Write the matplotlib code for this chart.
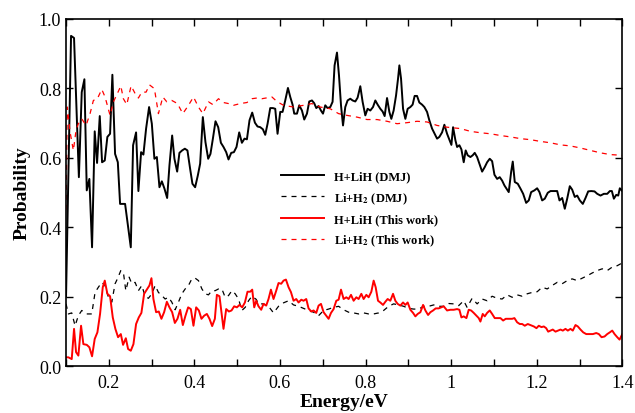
import numpy as np
import matplotlib
matplotlib.use("Agg")
import matplotlib.pyplot as plt
from matplotlib.ticker import MultipleLocator

# H+LiH (DMJ), black solid
e_hlih_dmj = [0.100, 0.1117, 0.1187, 0.130, 0.1367, 0.1429, 0.1484, 0.1545, 0.1608, 0.167,
              0.1725, 0.1788, 0.1842, 0.1905, 0.1966, 0.2029, 0.2083, 0.2146, 0.221, 0.2263,
              0.238, 0.2513, 0.2567, 0.2637, 0.2691, 0.2754, 0.2808, 0.2871, 0.2941, 0.3005,
              0.3065, 0.3122, 0.3183, 0.3239, 0.330, 0.3363, 0.3417, 0.348, 0.3533, 0.3597,
              0.365, 0.3713, 0.3777, 0.3837, 0.390, 0.3954, 0.4017, 0.408, 0.4134, 0.4197,
              0.4258, 0.4322, 0.4375, 0.4432, 0.4493, 0.4556, 0.4619, 0.468, 0.4743, 0.4797,
              0.486, 0.4923, 0.4984, 0.5047, 0.511, 0.5171, 0.5227, 0.5288, 0.5351, 0.5414,
              0.5475, 0.5538, 0.560, 0.5655, 0.571, 0.5772, 0.5835, 0.5889, 0.5943, 0.6006,
              0.606, 0.6123, 0.6186, 0.624, 0.6294, 0.6333, 0.6397, 0.645, 0.6513, 0.6567,
              0.663, 0.6684, 0.6747, 0.680, 0.6848, 0.6902, 0.6957, 0.7005, 0.7058, 0.7112,
              0.7175, 0.7229, 0.7276, 0.7332, 0.7379, 0.7426, 0.7473, 0.7526, 0.758, 0.7643,
              0.7697, 0.776, 0.7814, 0.7877, 0.7931, 0.7994, 0.8048, 0.8111, 0.8174, 0.8228,
              0.8282, 0.8345, 0.8399, 0.8446, 0.8502, 0.8556, 0.8602, 0.8656, 0.8712, 0.8759,
              0.879, 0.8829, 0.8876, 0.893, 0.8984, 0.9047, 0.910, 0.9147, 0.9203, 0.9257,
              0.932, 0.9374, 0.9437, 0.949, 0.9554, 0.9615, 0.9671, 0.9725, 0.9788, 0.9842,
              0.9905, 0.9966, 1.0006, 1.0045, 1.010, 1.0139, 1.0193, 1.024, 1.0294, 1.034,
              1.0387, 1.045, 1.0504, 1.0551, 1.0607, 1.066, 1.0724, 1.0785, 1.0841, 1.0902,
              1.0958, 1.1012, 1.1075, 1.1136, 1.1192, 1.1246, 1.1292, 1.1346, 1.1402, 1.144,
              1.1487, 1.1557, 1.162, 1.1683, 1.1753, 1.1814, 1.187, 1.1947, 1.201, 1.2064,
              1.2127, 1.2188, 1.2258, 1.2322, 1.2399, 1.2478, 1.2532, 1.2595, 1.2656, 1.2712,
              1.2773, 1.2829, 1.289, 1.2946, 1.3007, 1.3077, 1.314, 1.3203, 1.3273, 1.3351,
              1.3414, 1.3491, 1.3569, 1.3648, 1.3709, 1.3756, 1.3803, 1.3858, 1.3905, 1.3942,
              1.400]
p_hlih_dmj = [0.20, 0.951, 0.945, 0.544, 0.789, 0.826, 0.506, 0.539, 0.342, 0.676,
              0.585, 0.720, 0.587, 0.592, 0.660, 0.669, 0.839, 0.611, 0.587, 0.467,
              0.467, 0.342, 0.636, 0.673, 0.504, 0.616, 0.609, 0.684, 0.746, 0.698,
              0.597, 0.602, 0.515, 0.532, 0.511, 0.484, 0.578, 0.664, 0.597, 0.560,
              0.614, 0.621, 0.626, 0.621, 0.568, 0.525, 0.515, 0.549, 0.583, 0.717,
              0.645, 0.597, 0.611, 0.655, 0.705, 0.688, 0.643, 0.631, 0.616, 0.595,
              0.614, 0.616, 0.631, 0.673, 0.643, 0.655, 0.653, 0.708, 0.730, 0.701,
              0.690, 0.688, 0.682, 0.666, 0.698, 0.743, 0.743, 0.741, 0.669, 0.732,
              0.732, 0.765, 0.801, 0.775, 0.753, 0.727, 0.727, 0.751, 0.736, 0.710,
              0.727, 0.762, 0.765, 0.757, 0.743, 0.749, 0.736, 0.727, 0.751, 0.743,
              0.746, 0.761, 0.866, 0.903, 0.837, 0.751, 0.693, 0.746, 0.765, 0.770,
              0.765, 0.762, 0.773, 0.806, 0.761, 0.722, 0.741, 0.736, 0.746, 0.765,
              0.753, 0.741, 0.733, 0.720, 0.772, 0.732, 0.712, 0.736, 0.779, 0.828,
              0.866, 0.828, 0.741, 0.712, 0.741, 0.746, 0.753, 0.778, 0.778, 0.759,
              0.753, 0.746, 0.732, 0.708, 0.684, 0.669, 0.655, 0.660, 0.673, 0.695,
              0.669, 0.650, 0.637, 0.688, 0.650, 0.631, 0.636, 0.624, 0.587, 0.621,
              0.607, 0.602, 0.607, 0.614, 0.602, 0.583, 0.560, 0.573, 0.587, 0.597,
              0.590, 0.551, 0.539, 0.544, 0.534, 0.520, 0.511, 0.501, 0.559, 0.589,
              0.530, 0.525, 0.511, 0.496, 0.470, 0.477, 0.501, 0.506, 0.512, 0.501,
              0.477, 0.482, 0.499, 0.504, 0.504, 0.504, 0.477, 0.484, 0.453, 0.482,
              0.518, 0.508, 0.487, 0.491, 0.477, 0.467, 0.484, 0.503, 0.504, 0.503,
              0.496, 0.491, 0.496, 0.496, 0.504, 0.504, 0.482, 0.493, 0.491, 0.512,
              0.504]

# Li+H2 (DMJ), black dashed
e_lih2_dmj = [0.100, 0.1055, 0.1133, 0.1211, 0.1288, 0.1367, 0.1484, 0.1601, 0.1678, 0.1756,
              0.1835, 0.1912, 0.199, 0.2069, 0.2146, 0.220, 0.228, 0.234, 0.2397, 0.2474,
              0.2537, 0.2614, 0.2691, 0.2771, 0.2848, 0.2925, 0.3005, 0.3082, 0.3159, 0.3239,
              0.3316, 0.3393, 0.3472, 0.355, 0.3627, 0.3706, 0.3784, 0.3861, 0.394, 0.4018,
              0.4095, 0.4175, 0.4252, 0.4329, 0.4408, 0.4485, 0.4563, 0.4642, 0.4719, 0.4797,
              0.4876, 0.4953, 0.5031, 0.511, 0.5187, 0.5265, 0.5344, 0.5444, 0.5498, 0.5615,
              0.5732, 0.5849, 0.5966, 0.6083, 0.620, 0.6317, 0.6434, 0.6551, 0.6668, 0.6785,
              0.6902, 0.7019, 0.7136, 0.7253, 0.737, 0.7487, 0.7604, 0.7721, 0.7838, 0.7955,
              0.8072, 0.8189, 0.8306, 0.8422, 0.8539, 0.8656, 0.8773, 0.889, 0.9007, 0.9124,
              0.9241, 0.9358, 0.9475, 0.9592, 0.9709, 0.9826, 0.9943, 1.006, 1.0177, 1.0294,
              1.0372, 1.049, 1.0607, 1.0724, 1.0841, 1.0958, 1.1075, 1.1192, 1.1309, 1.1426,
              1.1543, 1.166, 1.1777, 1.1894, 1.2011, 1.2128, 1.2245, 1.2362, 1.2479, 1.2595,
              1.2712, 1.2829, 1.2946, 1.3063, 1.318, 1.3297, 1.3414, 1.3531, 1.3648, 1.3765,
              1.3882, 1.400]
p_lih2_dmj = [0.179, 0.150, 0.153, 0.116, 0.145, 0.160, 0.150, 0.150, 0.212, 0.227,
              0.241, 0.232, 0.198, 0.184, 0.237, 0.251, 0.275, 0.270, 0.217, 0.256,
              0.237, 0.241, 0.217, 0.232, 0.201, 0.195, 0.208, 0.232, 0.212, 0.203,
              0.193, 0.198, 0.184, 0.162, 0.184, 0.208, 0.222, 0.232, 0.251, 0.253,
              0.246, 0.222, 0.208, 0.205, 0.217, 0.217, 0.222, 0.222, 0.198, 0.203,
              0.217, 0.208, 0.193, 0.160, 0.169, 0.188, 0.201, 0.192, 0.179, 0.179,
              0.172, 0.153, 0.172, 0.182, 0.188, 0.176, 0.172, 0.166, 0.160, 0.155,
              0.145, 0.160, 0.164, 0.169, 0.172, 0.162, 0.155, 0.153, 0.150, 0.153,
              0.150, 0.150, 0.153, 0.160, 0.172, 0.179, 0.176, 0.172, 0.166, 0.164,
              0.164, 0.172, 0.172, 0.176, 0.172, 0.172, 0.180, 0.179, 0.174, 0.188,
              0.169, 0.195, 0.179, 0.193, 0.188, 0.201, 0.195, 0.193, 0.205, 0.198,
              0.205, 0.201, 0.208, 0.212, 0.214, 0.227, 0.222, 0.232, 0.241, 0.237,
              0.246, 0.251, 0.246, 0.253, 0.260, 0.268, 0.275, 0.280, 0.275, 0.285,
              0.289, 0.297]

# H+LiH (This work), red solid
e_hlih_tw = [0.100, 0.1055, 0.1133, 0.1187, 0.1234, 0.1288, 0.1351, 0.1405, 0.1484, 0.1545,
             0.1608, 0.167, 0.1733, 0.1795, 0.1858, 0.1905, 0.1966, 0.2029, 0.2092, 0.2153,
             0.2216, 0.228, 0.2333, 0.2397, 0.245, 0.2513, 0.2575, 0.2637, 0.270, 0.2761,
             0.2825, 0.2888, 0.2949, 0.2996, 0.3042, 0.3105, 0.3168, 0.3229, 0.3292, 0.3356,
             0.3416, 0.348, 0.3543, 0.3604, 0.3667, 0.373, 0.3791, 0.3854, 0.3917, 0.3978,
             0.4041, 0.4104, 0.4165, 0.4228, 0.4291, 0.4352, 0.4415, 0.4478, 0.4525, 0.4586,
             0.4633, 0.468, 0.4743, 0.4806, 0.4867, 0.493, 0.4993, 0.5054, 0.5117, 0.518,
             0.5241, 0.5304, 0.5351, 0.5398, 0.5444, 0.5498, 0.5561, 0.5615, 0.5678, 0.5732,
             0.5788, 0.5849, 0.5912, 0.5966, 0.6029, 0.6083, 0.6139, 0.620, 0.6256, 0.6317,
             0.638, 0.6434, 0.6497, 0.6551, 0.6614, 0.6668, 0.6731, 0.6785, 0.6848, 0.6902,
             0.6958, 0.7019, 0.7082, 0.7136, 0.7192, 0.7253, 0.7316, 0.737, 0.7426, 0.7487,
             0.755, 0.7604, 0.766, 0.7721, 0.7784, 0.7838, 0.7901, 0.7955, 0.8018, 0.8072,
             0.8135, 0.8189, 0.8236, 0.8291, 0.8345, 0.8408, 0.8462, 0.8516, 0.8579, 0.8642,
             0.8696, 0.875, 0.8813, 0.8876, 0.893, 0.8984, 0.9047, 0.911, 0.9164, 0.9218,
             0.9281, 0.9344, 0.9398, 0.9461, 0.9515, 0.9578, 0.9639, 0.9709, 0.9765, 0.9826,
             0.9905, 0.9982, 1.006, 1.0139, 1.0193, 1.024, 1.0294, 1.0357, 1.0411, 1.0467,
             1.0528, 1.0591, 1.0645, 1.0684, 1.0738, 1.0785, 1.0841, 1.0902, 1.0958, 1.1019,
             1.1089, 1.1152, 1.1215, 1.1276, 1.1346, 1.1426, 1.1479, 1.1542, 1.1604, 1.166,
             1.1721, 1.1791, 1.1854, 1.1932, 1.1994, 1.2048, 1.2111, 1.2165, 1.2221, 1.2268,
             1.2322, 1.2375, 1.2439, 1.2501, 1.2556, 1.261, 1.2672, 1.2727, 1.2789, 1.2843,
             1.2906, 1.296, 1.3023, 1.3086, 1.3157, 1.3234, 1.3312, 1.3391, 1.3452, 1.3515,
             1.3585, 1.3648, 1.3709, 1.3765, 1.3819, 1.3882, 1.3936, 1.400]
p_hlih_tw = [0.025, 0.025, 0.020, 0.107, 0.040, 0.030, 0.116, 0.063, 0.061, 0.054,
             0.028, 0.078, 0.097, 0.150, 0.227, 0.246, 0.208, 0.201, 0.140, 0.107,
             0.083, 0.092, 0.061, 0.080, 0.049, 0.044, 0.063, 0.121, 0.140, 0.153,
             0.208, 0.220, 0.232, 0.253, 0.193, 0.155, 0.157, 0.136, 0.155, 0.185,
             0.169, 0.155, 0.124, 0.136, 0.162, 0.118, 0.145, 0.169, 0.164, 0.116,
             0.169, 0.160, 0.136, 0.145, 0.150, 0.136, 0.115, 0.136, 0.205, 0.201,
             0.155, 0.107, 0.164, 0.157, 0.160, 0.172, 0.169, 0.176, 0.169, 0.183,
             0.214, 0.214, 0.220, 0.169, 0.188, 0.172, 0.162, 0.179, 0.174, 0.193,
             0.220, 0.193, 0.217, 0.239, 0.237, 0.246, 0.249, 0.227, 0.213, 0.188,
             0.193, 0.183, 0.191, 0.188, 0.193, 0.166, 0.157, 0.160, 0.153, 0.174,
             0.179, 0.155, 0.145, 0.136, 0.153, 0.164, 0.188, 0.191, 0.220, 0.193,
             0.198, 0.193, 0.205, 0.188, 0.198, 0.193, 0.208, 0.193, 0.205, 0.198,
             0.214, 0.246, 0.227, 0.188, 0.183, 0.176, 0.185, 0.193, 0.188, 0.208,
             0.188, 0.179, 0.174, 0.183, 0.176, 0.183, 0.162, 0.153, 0.143, 0.150,
             0.155, 0.176, 0.160, 0.147, 0.155, 0.160, 0.166, 0.166, 0.169, 0.172,
             0.160, 0.162, 0.162, 0.164, 0.162, 0.140, 0.143, 0.138, 0.162, 0.160,
             0.153, 0.145, 0.138, 0.128, 0.150, 0.143, 0.153, 0.160, 0.150, 0.138,
             0.138, 0.138, 0.131, 0.136, 0.136, 0.136, 0.138, 0.126, 0.121, 0.121,
             0.116, 0.121, 0.118, 0.114, 0.109, 0.116, 0.112, 0.114, 0.109, 0.099,
             0.102, 0.105, 0.099, 0.102, 0.105, 0.102, 0.107, 0.102, 0.107, 0.102,
             0.118, 0.114, 0.105, 0.097, 0.092, 0.092, 0.092, 0.095, 0.092, 0.083,
             0.085, 0.092, 0.097, 0.102, 0.092, 0.083, 0.076, 0.092]

# Li+H2 (This work), red dashed
e_lih2_tw = [0.100, 0.103, 0.1094, 0.1171, 0.1234, 0.1288, 0.1367, 0.1468, 0.1561, 0.1639,
             0.1732, 0.1835, 0.1912, 0.2029, 0.2107, 0.220, 0.228, 0.234, 0.242, 0.252,
             0.2614, 0.2691, 0.2771, 0.2871, 0.2949, 0.3065, 0.3159, 0.3262, 0.3355, 0.3472,
             0.3604, 0.3729, 0.3861, 0.3978, 0.4095, 0.4198, 0.4329, 0.4432, 0.4563, 0.468,
             0.4797, 0.4914, 0.507, 0.5227, 0.5344, 0.5461, 0.5578, 0.5812, 0.5928, 0.6083,
             0.6317, 0.6551, 0.6747, 0.6942, 0.7175, 0.737, 0.7566, 0.780, 0.8034, 0.8268,
             0.8502, 0.8736, 0.897, 0.9203, 0.9437, 0.9671, 0.9905, 1.0216, 1.045, 1.0684,
             1.0918, 1.1152, 1.1386, 1.162, 1.1854, 1.2088, 1.2322, 1.2556, 1.2789, 1.3023,
             1.3257, 1.3491, 1.3725, 1.400]
p_lih2_tw = [0.45, 0.746, 0.674, 0.621, 0.679, 0.698, 0.712, 0.693, 0.727, 0.765,
             0.770, 0.797, 0.775, 0.722, 0.761, 0.785, 0.807, 0.770, 0.753, 0.807,
             0.785, 0.772, 0.789, 0.789, 0.810, 0.799, 0.727, 0.775, 0.761, 0.765,
             0.756, 0.727, 0.751, 0.775, 0.746, 0.727, 0.761, 0.753, 0.770, 0.759,
             0.756, 0.751, 0.756, 0.759, 0.770, 0.772, 0.770, 0.775, 0.762, 0.751,
             0.746, 0.751, 0.756, 0.746, 0.741, 0.727, 0.722, 0.717, 0.710, 0.710,
             0.705, 0.698, 0.701, 0.705, 0.703, 0.693, 0.688, 0.684, 0.676, 0.672,
             0.669, 0.664, 0.660, 0.655, 0.652, 0.647, 0.643, 0.637, 0.634, 0.628,
             0.621, 0.614, 0.609, 0.607]

plt.rcParams['font.family'] = 'Liberation Serif'
plt.rcParams['mathtext.fontset'] = 'stix'

fig = plt.figure(figsize=(6.35, 4.14), dpi=100)
ax = fig.add_axes([0.104, 0.1135, 0.876, 0.8385])

ax.plot(e_hlih_dmj, p_hlih_dmj, color='black', lw=1.4, label='H+LiH (DMJ)')
ax.plot(e_lih2_dmj, p_lih2_dmj, color='black', lw=0.9, ls=(0, (4, 4)),
        label=r'Li+H$_\mathbf{2}$ (DMJ)')
ax.plot(e_hlih_tw, p_hlih_tw, color='red', lw=1.4, label='H+LiH (This work)')
ax.plot(e_lih2_tw, p_lih2_tw, color='red', lw=0.9, ls=(0, (4, 4)),
        label=r'Li+H$_\mathbf{2}$ (This work)')

ax.set_xlim(0.1, 1.4)
ax.set_ylim(0.0, 1.0)
ax.xaxis.set_major_locator(MultipleLocator(0.2))
ax.xaxis.set_minor_locator(MultipleLocator(0.1))
ax.yaxis.set_major_locator(MultipleLocator(0.2))
ax.xaxis.set_major_formatter(plt.FuncFormatter(lambda v, p: f'{v:g}'))
ax.yaxis.set_major_formatter(plt.FuncFormatter(lambda v, p: f'{v:.1f}'))
ax.tick_params(which='both', direction='in', top=True, right=True, labelsize=13,
               width=1, length=5)
ax.tick_params(axis='x', pad=6)
for s in ax.spines.values():
    s.set_linewidth(1.2)

ax.set_xlabel('Energy/eV', fontsize=14, fontweight='bold', labelpad=1)
ax.set_ylabel('Probability', fontsize=14, fontweight='bold', labelpad=6)

leg = ax.legend(loc='upper left', bbox_to_anchor=(0.367, 0.596), frameon=False,
                prop={'weight': 'bold', 'size': 9}, handlelength=3.4,
                labelspacing=0.62, handletextpad=0.8)

fig.savefig('out.png', dpi=100)
